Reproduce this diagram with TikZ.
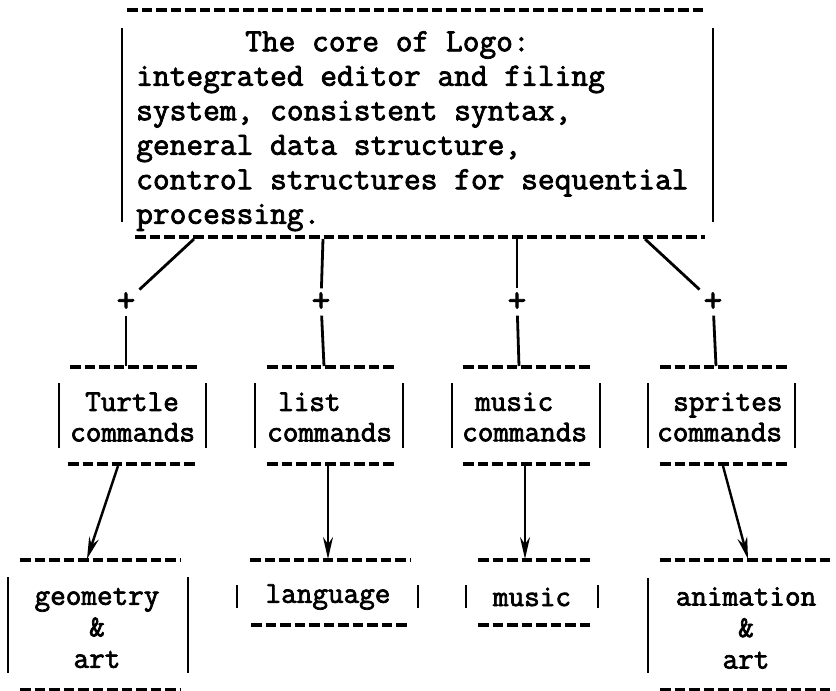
\documentclass[tikz,border=0pt]{standalone}
\usepackage{fontspec}
\newfontfamily\tw{Latin Modern Mono}[FakeBold=2.4]
\usetikzlibrary{arrows.meta}
\begin{document}
\begin{tikzpicture}[x=1pt,y=-1pt,
  dashline/.style={line width=3.2pt, dash pattern=on 10.5pt off 4pt},
  bar/.style={line width=2.8pt},
  conn/.style={line width=2.8pt},
  arr/.style={line width=2.4pt, -{Stealth[length=22pt,width=10pt]}},
  coretxt/.style={font=\tw\fontsize{32.5}{34.5}\selectfont, align=left, inner sep=0pt},
  txt/.style={font=\tw\fontsize{30.3}{30.5}\selectfont, align=left, inner sep=0pt},
  ctxt/.style={font=\tw\fontsize{30.3}{31.5}\selectfont, align=center, inner sep=0pt},
  plus/.style={font=\tw\fontsize{36}{36}\selectfont, inner sep=4pt}]
\useasboundingbox (0,0) rectangle (836,691);

% ---- core box
\draw[dashline] (127,10) -- (705,10);
\draw[bar] (122,28) -- (122,222);
\draw[bar] (713,28) -- (713,222);
\draw[dashline] (135,237) -- (705,237);
\node[coretxt, anchor=north west] (core) at (136,31) {\hspace*{109pt}The core of Logo:\\
integrated editor and filing\\
system, consistent syntax,\\
general data structure,\\
control structures for sequential\\
processing.};

% ---- coordinates on core box bottom
\coordinate (c1) at (194,239);
\coordinate (c2) at (323,239);
\coordinate (c3) at (517,239);
\coordinate (c4) at (645,239);

% ---- plus nodes
\node[plus] (p1) at (126,302) {+};
\node[plus] (p2) at (321,302) {+};
\node[plus] (p3) at (517,302) {+};
\node[plus] (p4) at (713,302) {+};

% ---- second level boxes
% Turtle
\draw[dashline] (70,367) -- (197,367);
\draw[bar] (59,383) -- (59,448);
\draw[bar] (206,383) -- (206,448);
\draw[dashline] (68,464) -- (197,464);
\node[txt, anchor=west] (turtle) at (70,417) {\hspace*{15pt}Turtle\\commands};
\coordinate (t1) at (126,366);
\coordinate (b1) at (118,466);
% list
\draw[dashline] (267,367) -- (395,367);
\draw[bar] (255,383) -- (255,448);
\draw[bar] (403,383) -- (403,448);
\draw[dashline] (267,464) -- (395,464);
\node[txt, anchor=west] (listc) at (267,417) {\hspace*{11pt}list\\commands};
\coordinate (t2) at (324,366);
\coordinate (b2) at (328,466);
% music
\draw[dashline] (463,367) -- (592,367);
\draw[bar] (452,383) -- (452,448);
\draw[bar] (600,383) -- (600,448);
\draw[dashline] (463,464) -- (592,464);
\node[txt, anchor=west] (musicc) at (462,417) {\hspace*{13pt}music\\commands};
\coordinate (t3) at (519,366);
\coordinate (b3) at (525,466);
% sprites
\draw[dashline] (660,367) -- (787,367);
\draw[bar] (648,383) -- (648,448);
\draw[bar] (795,383) -- (795,448);
\draw[dashline] (660,464) -- (787,464);
\node[txt, anchor=west] (sprites) at (657,417) {\hspace*{16pt}sprites\\commands};
\coordinate (t4) at (716,366);
\coordinate (b4) at (723,466);

% ---- connectors top
\draw[conn] (c1) -- (p1);
\draw[conn] (c2) -- (p2);
\draw[conn] (c3) -- (p3);
\draw[conn] (c4) -- (p4);
\draw[conn] (p1) -- (t1);
\draw[conn] (p2) -- (t2);
\draw[conn] (p3) -- (t3);
\draw[conn] (p4) -- (t4);

% ---- third level boxes
% geometry
\draw[dashline] (20,560) -- (180,560);
\draw[bar] (8,577) -- (8,673);
\draw[bar] (188,577) -- (188,673);
\draw[dashline] (20,690) -- (180,690);
\node[ctxt] (geo) at (97,628) {geometry\\\&\\art};
\coordinate (g1) at (87,559);
% language
\draw[dashline] (250,560) -- (410,560);
\draw[bar] (237,585) -- (237,608);
\draw[bar] (418,585) -- (418,608);
\draw[dashline] (251,625) -- (408,625);
\node[ctxt] (lang) at (328,597) {language};
\coordinate (g2) at (328,559);
% music
\draw[dashline] (478,560) -- (592,560);
\draw[bar] (466,585) -- (466,608);
\draw[bar] (598,585) -- (598,608);
\draw[dashline] (478,625) -- (592,625);
\node[ctxt] (music) at (532,597) {music};
\coordinate (g3) at (525,559);
% animation
\draw[dashline] (660,560) -- (833,560);
\draw[bar] (648,578) -- (648,673);
\draw[dashline] (660,690) -- (833,690);
\node[ctxt] (anim) at (746,628) {animation\\\&\\art};
\coordinate (g4) at (748,559);

% ---- arrows
\draw[arr] (b1) -- (g1);
\draw[arr] (b2) -- (g2);
\draw[arr] (b3) -- (g3);
\draw[arr] (b4) -- (g4);
\end{tikzpicture}
\end{document}
